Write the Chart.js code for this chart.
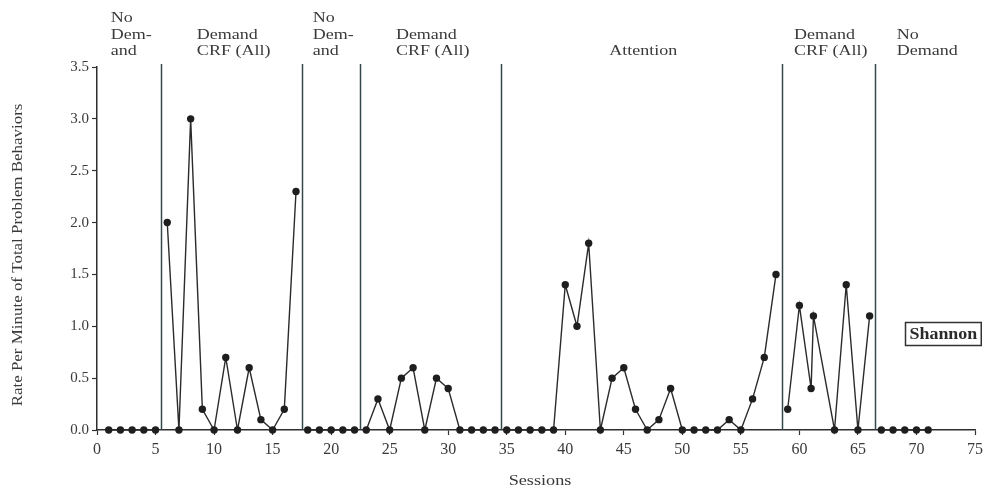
<!DOCTYPE html>
<html>
<head>
<meta charset="utf-8">
<script src="https://cdn.jsdelivr.net/npm/chart.js@4"></script>
<style>
  html, body { margin: 0; padding: 0; background: #ffffff; }
  #wrap { width: 988px; height: 489px; }
</style>
</head>
<body>
<div id="wrap"><canvas id="c" width="988" height="489"></canvas></div>
<script>
// ---- data ----
const sessions = [1,2,3,4,5, 6,7,8,9,10,11,12,13,14,15,16,17, 18,19,20,21,22,
  23,24,25,26,27,28,29,30,31,32,33,34,
  35,36,37,38,39,40,41,42,43,44,45,46,47,48,49,50,51,52,53,54,55,56,57,58,
  59,60,61,61.2,63,64,65,66, 67,68,69,70,71];
const rates = [0,0,0,0,0, 2.0,0,3.0,0.2,0,0.7,0,0.6,0.1,0,0.2,2.3, 0,0,0,0,0,
  0,0.3,0,0.5,0.6,0,0.5,0.4,0,0,0,0,
  0,0,0,0,0,1.4,1.0,1.8,0,0.5,0.6,0.2,0,0.1,0.4,0,0,0,0,0.1,0,0.3,0.7,1.5,
  0.2,1.2,0.4,1.1,0,1.4,0,1.1, 0,0,0,0,0];
const phaseBoundaries = [5.5, 17.5, 22.5, 34.5, 58.5, 66.5];
const phaseLabels = [
  ["No","Dem-","and"],
  ["Demand","CRF (All)"],
  ["No","Dem-","and"],
  ["Demand","CRF (All)"],
  ["Attention"],
  ["Demand","CRF (All)"],
  ["No","Demand"]
];
const xTicks = [0,5,10,15,20,25,30,35,40,45,50,55,60,65,70,75];
const yTicks = [0,0.5,1.0,1.5,2.0,2.5,3.0,3.5];
const subjectName = "Shannon";
const xTitle = "Sessions";
const yTitle = "Rate Per Minute of Total Problem Behaviors";

// split into phase datasets (line breaks at each phase change)
const edges = [-Infinity, ...phaseBoundaries, Infinity];
const datasets = [];
for (let p = 0; p < edges.length - 1; p++) {
  const pts = [];
  sessions.forEach((s, i) => {
    if (s > edges[p] && s < edges[p + 1]) pts.push({ x: s, y: rates[i] });
  });
  datasets.push({
    data: pts,
    showLine: true,
    borderColor: '#2b2b2b',
    borderWidth: 1.4,
    pointRadius: 3.7,
    pointBackgroundColor: '#1e1e1e',
    pointBorderColor: '#1e1e1e',
    pointBorderWidth: 0,
    tension: 0,
    clip: false
  });
}

const SERIF = '"Liberation Serif", "DejaVu Serif", serif';
const TEXT = '#3a3a3a';

function stretchedText(ctx, text, x, y, sx) {
  ctx.save();
  ctx.translate(x, y);
  ctx.scale(sx, 1);
  ctx.fillText(text, 0, 0);
  ctx.restore();
}

const overlay = {
  id: 'overlay',
  afterDatasetsDraw(chart) {
    const { ctx, chartArea, scales } = chart;
    const xs = scales.x;
    ctx.save();
    // phase lines
    ctx.strokeStyle = '#34484a';
    ctx.lineWidth = 1.5;
    phaseBoundaries.forEach(b => {
      const px = Math.round(xs.getPixelForValue(b)) + 0.5;
      ctx.beginPath();
      ctx.moveTo(px, chartArea.top - 3);
      ctx.lineTo(px, chartArea.bottom);
      ctx.stroke();
    });
    // phase labels
    const SX = 1.2;
    ctx.font = '15px ' + SERIF;
    ctx.fillStyle = TEXT;
    ctx.textBaseline = 'alphabetic';
    ctx.textAlign = 'left';
    const pe = [xs.min, ...phaseBoundaries, xs.max];
    phaseLabels.forEach((lines, i) => {
      const cx = (xs.getPixelForValue(pe[i]) + xs.getPixelForValue(pe[i + 1])) / 2;
      const w = Math.max(...lines.map(l => ctx.measureText(l).width)) * SX;
      const left = cx - w / 2 + 2;
      const lh = 16.5;
      const baseBottom = 55;
      lines.forEach((l, j) => {
        const y = baseBottom - (lines.length - 1 - j) * lh;
        stretchedText(ctx, l, left, y, SX);
      });
    });
    // subject label box
    ctx.font = 'bold 16px ' + SERIF;
    const tw = ctx.measureText(subjectName).width * 1.12;
    const bx = 905, by = 322, bh = 23;
    const bw = tw + 8;
    ctx.strokeStyle = '#333';
    ctx.lineWidth = 1.5;
    ctx.strokeRect(bx + 0.5, by + 0.5, bw, bh);
    ctx.fillStyle = '#2a2a2a';
    ctx.textBaseline = 'middle';
    stretchedText(ctx, subjectName, bx + 4.5, by + bh / 2 + 1.5, 1.12);

    // axis titles
    ctx.fillStyle = TEXT;
    ctx.textAlign = 'center';
    ctx.textBaseline = 'middle';
    ctx.font = '14px ' + SERIF;
    stretchedText(ctx, xTitle, 540, 481, 1.3);
    ctx.save();
    ctx.translate(18, 255);
    ctx.rotate(-Math.PI / 2);
    ctx.scale(1.21, 1);
    ctx.fillText(yTitle, 0, 0);
    ctx.restore();
    ctx.restore();
  }
};

new Chart(document.getElementById('c'), {
  type: 'scatter',
  data: { datasets },
  options: {
    responsive: false,
    animation: false,
    layout: { padding: { top: 67, right: 10, left: 0, bottom: 0 } },
    plugins: { legend: { display: false }, tooltip: { enabled: false } },
    scales: {
      x: {
        type: 'linear',
        min: 0, max: 75,
        afterBuildTicks(scale) { scale.ticks = xTicks.map(v => ({ value: v })); },
        afterFit(scale) { scale.height = 59; },
        grid: { display: true, drawOnChartArea: false, drawTicks: true, tickLength: 5, tickColor: '#333', tickWidth: 1.2 },
        border: { display: true, color: '#2e2e2e', width: 1.5 },
        ticks: { color: TEXT, font: { family: SERIF, size: 16 }, padding: 5, maxRotation: 0 },
        title: { display: false }
      },
      y: {
        min: 0, max: 3.5,
        afterBuildTicks(scale) { scale.ticks = yTicks.map(v => ({ value: v })); },
        afterFit(scale) { scale.width = 97; },
        grid: { display: true, drawOnChartArea: false, drawTicks: true, tickLength: 5, tickColor: '#333', tickWidth: 1.2 },
        border: { display: true, color: '#2e2e2e', width: 1.5 },
        ticks: { color: TEXT, font: { family: SERIF, size: 15 }, padding: 3, callback: v => Number(v).toFixed(1) },
        title: { display: false }
      }
    }
  },
  plugins: [overlay]
});
</script>
</body>
</html>
